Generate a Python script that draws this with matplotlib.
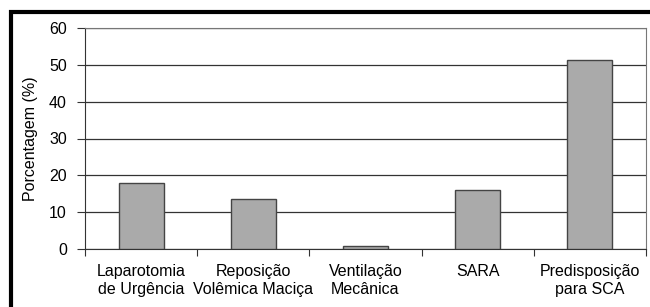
import matplotlib.pyplot as plt
from matplotlib.patches import Rectangle

plt.rcParams['font.family'] = ['Liberation Sans', 'DejaVu Sans']

categories = ["Laparotomia\nde Urgência", "Reposição\nVolêmica Maciça",
              "Ventilação\nMecânica", "SARA", "Predisposição\npara SCA"]
values = [18.0, 13.5, 0.9, 16.0, 51.4]
yticks = [0, 10, 20, 30, 40, 50, 60]

fig = plt.figure(figsize=(6.5, 3.07), dpi=100)
ax = fig.add_axes([85 / 650, 1 - 249 / 307, 561 / 650, 221 / 307])

x = range(len(categories))
ax.bar(x, values, width=0.4, color="#aaaaaa", edgecolor="#444444", linewidth=1.0, zorder=3)

ax.set_ylim(0, 60)
ax.set_xlim(-0.5, len(categories) - 0.5)
ax.set_yticks(yticks)
ax.yaxis.grid(True, color="#333333", linewidth=0.9, zorder=0)
ax.set_axisbelow(True)

# ticks between the categories, labels centred under the bars
ax.set_xticks([i + 0.5 for i in range(-1, len(categories))])
ax.set_xticklabels([])
ax.set_xticks(list(x), minor=True)
ax.set_xticklabels(categories, minor=True, fontsize=11.5, linespacing=1.25)
ax.tick_params(axis="x", which="minor", length=0, pad=11)
ax.tick_params(axis="x", which="major", length=5, color="#333333", direction="out")
ax.tick_params(axis="y", length=6, color="#333333", labelsize=11.5, pad=7)

for s in ["left", "bottom"]:
    ax.spines[s].set_color("#333333")
for s in ["top", "right"]:
    ax.spines[s].set_color("#777777")

ax.set_ylabel("Porcentagem (%)", fontsize=11.5, labelpad=8)

# outer black frame
fig.patches.append(Rectangle((11 / 650, -0.1), 1.0, 1 - 12 / 307 + 0.1,
                             transform=fig.transFigure, fill=False,
                             edgecolor="black", linewidth=3))

fig.savefig("out.png", dpi=100)
